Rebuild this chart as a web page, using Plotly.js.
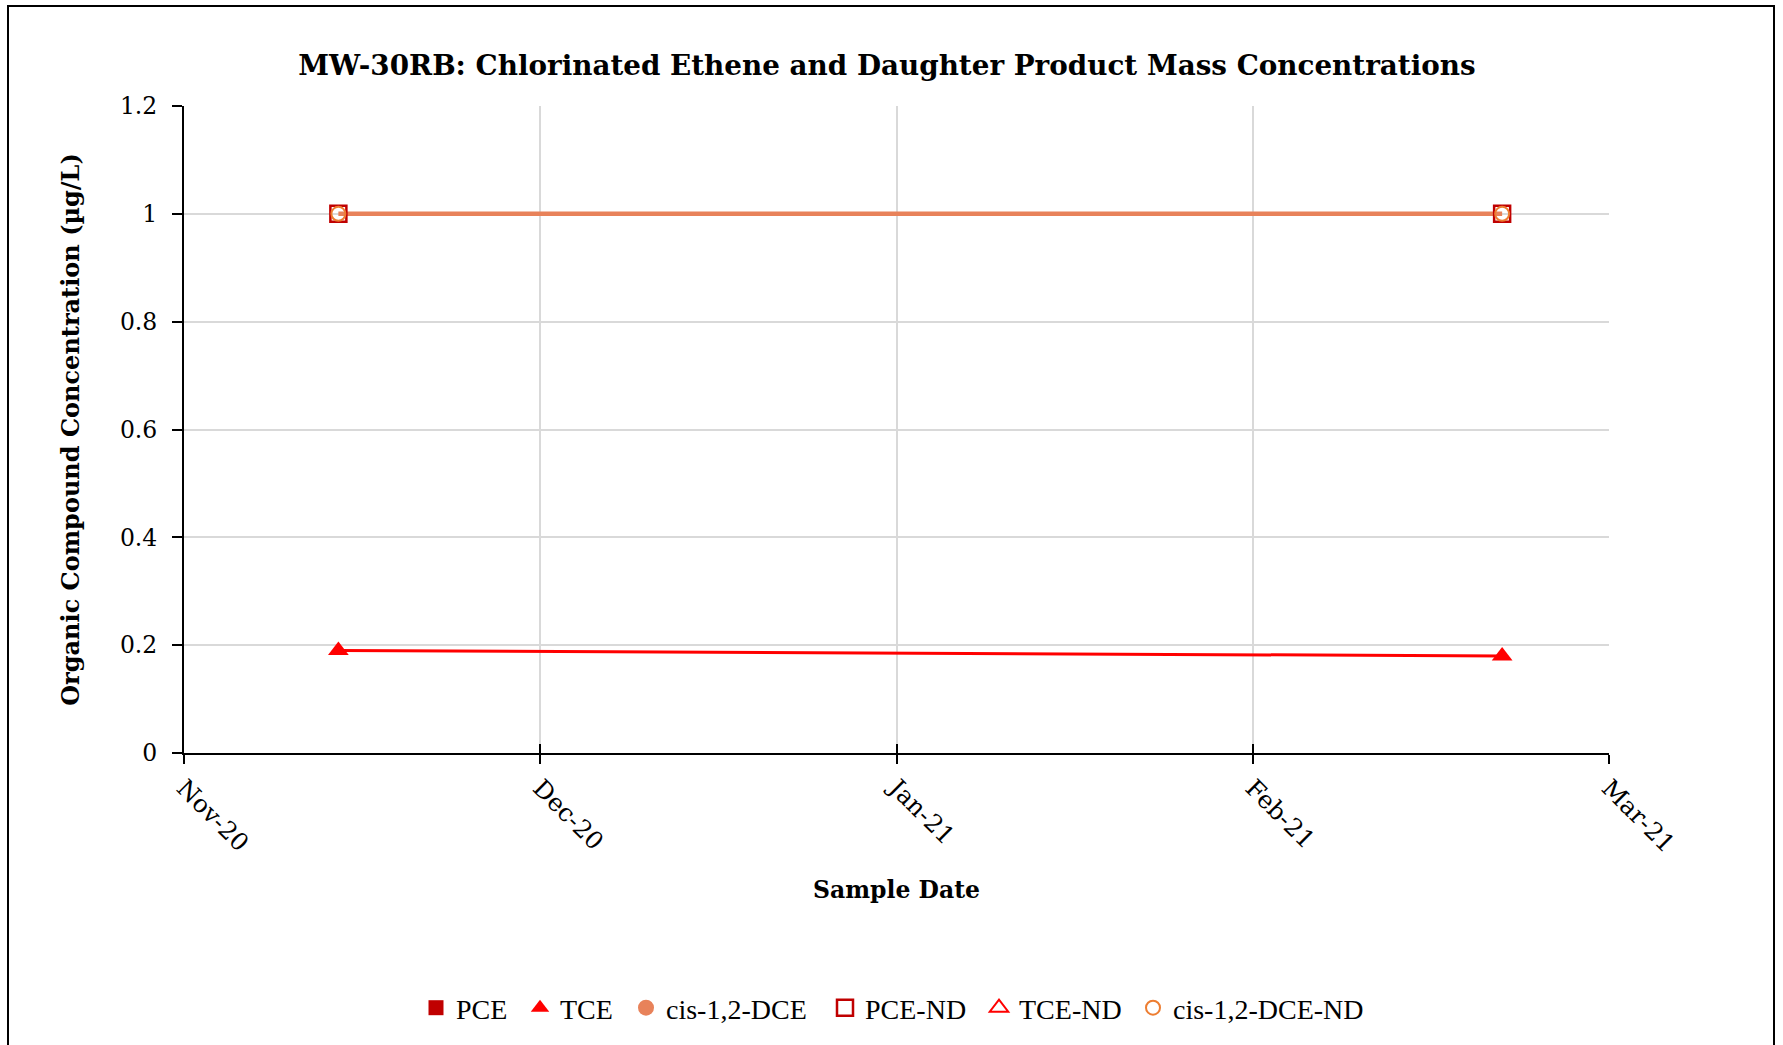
<!DOCTYPE html>
<html>
<head>
<meta charset="utf-8">
<script src="https://cdn.plot.ly/plotly-3.0.1.min.js"></script>
<style>
  html, body { margin: 0; padding: 0; background: #ffffff; }
  #chart { width: 1783px; height: 1045px; }
</style>
</head>
<body>
<div id="chart"></div>
<script>
// ---- data ----
const sampleDates = ['2020-11-28', '2021-03-06'];
const pceValues = [null, null];          // no detected PCE
const tceValues = [0.19, 0.18];
const cisDceValues = [null, null];       // no detected cis-1,2-DCE
const pceNdValues = [1, 1];
const tceNdValues = [null, null];        // no TCE non-detects
const cisDceNdValues = [1, 1];

const seriesNames = ['PCE', 'TCE', 'cis-1,2-DCE', 'PCE-ND', 'TCE-ND', 'cis-1,2-DCE-ND'];

const xTickDates = ['2020-11-15', '2020-12-15', '2021-01-14', '2021-02-13', '2021-03-15'];
const xTickLabels = ['Nov-20', 'Dec-20', 'Jan-21', 'Feb-21', 'Mar-21'];
const yTickValues = [0, 0.2, 0.4, 0.6, 0.8, 1, 1.2];
const yTickLabels = ['0', '0.2', '0.4', '0.6', '0.8', '1', '1.2'];

const colPCE = '#C00000';
const colTCE = '#FF0000';
const colDCE = '#E8825A';
const colDCEnd = '#ED7D31';

const serif = 'DejaVu Serif, Liberation Serif, serif';

const L = 184, R = 174, T = 106, B = 292;
const W = 1783, H = 1045;
const pw = W - L - R, ph = H - T - B;
const px2x = p => (p - L) / pw;
const py2y = p => (H - B - p) / ph;

// legend entry left edges (pixels), one legend box per entry
const legendLefts = [416, 520, 626, 825, 979, 1133];
const legendIds = ['legend', 'legend2', 'legend3', 'legend4', 'legend5', 'legend6'];

const traces = [
  // connecting lines (not in legend)
  { x: sampleDates, y: cisDceNdValues, mode: 'lines', line: { color: colDCE, width: 4.5 },
    showlegend: false, hoverinfo: 'skip' },
  { x: sampleDates, y: tceValues, mode: 'lines', line: { color: colTCE, width: 3 },
    showlegend: false, hoverinfo: 'skip' },
  // legend / marker series
  { name: seriesNames[0], legend: legendIds[0], x: sampleDates, y: pceValues, mode: 'markers',
    marker: { symbol: 'square', color: colPCE, size: 15 } },
  { name: seriesNames[1], legend: legendIds[1], x: sampleDates, y: tceValues, mode: 'markers',
    marker: { symbol: 'triangle-up', color: colTCE, size: 18 } },
  { name: seriesNames[2], legend: legendIds[2], x: sampleDates, y: cisDceValues, mode: 'markers',
    marker: { symbol: 'circle', color: colDCE, size: 16 } },
  { name: seriesNames[3], legend: legendIds[3], x: sampleDates, y: pceNdValues, mode: 'markers',
    marker: { symbol: 'square-open', color: colPCE, size: 16, line: { width: 2.5, color: colPCE } } },
  { name: seriesNames[4], legend: legendIds[4], x: sampleDates, y: tceNdValues, mode: 'markers',
    marker: { symbol: 'triangle-up-open', color: colTCE, size: 18, line: { width: 2, color: colTCE } } },
  { name: seriesNames[5], legend: legendIds[5], x: sampleDates, y: cisDceNdValues, mode: 'markers',
    marker: { symbol: 'circle-open', color: colDCEnd, size: 14, line: { width: 2, color: colDCEnd } } }
];

const layout = {
  width: W, height: H,
  margin: { l: L, r: R, t: T, b: B },
  paper_bgcolor: '#ffffff',
  plot_bgcolor: '#ffffff',
  title: {
    text: 'MW-30RB: Chlorinated Ethene and Daughter Product Mass Concentrations',
    font: { family: serif, size: 27.8, color: '#000000', weight: 'bold' },
    x: px2x(887), xref: 'paper', xanchor: 'center',
    y: 1 - 65 / H, yref: 'container', yanchor: 'middle'
  },
  showlegend: true,
  xaxis: {
    type: 'date',
    range: [xTickDates[0], xTickDates[xTickDates.length - 1]],
    tickmode: 'array', tickvals: xTickDates, ticktext: xTickLabels,
    tickangle: 45,
    tickfont: { family: serif, size: 24.5, color: '#000000' },
    ticks: 'outside', ticklen: 9, tickwidth: 1.5, tickcolor: '#000000',
    showline: true, linecolor: '#000000', linewidth: 2,
    showgrid: true, gridcolor: '#D9D9D9', gridwidth: 1.5,
    zeroline: false,
    title: { text: 'Sample Date', font: { family: serif, size: 23.5, color: '#000000', weight: 'bold' }, standoff: 24 }
  },
  xaxis2: {
    type: 'date', overlaying: 'x', matches: 'x', anchor: 'y',
    tickmode: 'array', tickvals: xTickDates, ticktext: xTickLabels,
    showticklabels: false, ticks: 'inside', ticklen: 9, tickwidth: 1.5, tickcolor: '#000000',
    showgrid: false, showline: false, zeroline: false
  },
  yaxis: {
    range: [0, 1.2],
    tickmode: 'array', tickvals: yTickValues, ticktext: yTickLabels,
    tickfont: { family: serif, size: 23.5, color: '#000000' },
    ticks: 'outside', ticklen: 10, tickwidth: 1.5, tickcolor: '#000000',
    ticklabelstandoff: 10,
    showline: true, linecolor: '#000000', linewidth: 2,
    showgrid: true, gridcolor: '#D9D9D9', gridwidth: 1.5,
    zeroline: false,
    title: { text: 'Organic Compound Concentration (µg/L)', font: { family: serif, size: 24, color: '#000000', weight: 'bold' }, standoff: 34 }
  },
  shapes: [
    { type: 'rect', xref: 'paper', yref: 'paper',
      x0: px2x(8), x1: px2x(1774), y0: py2y(1060), y1: py2y(6),
      line: { color: '#000000', width: 2 }, fillcolor: 'rgba(0,0,0,0)', layer: 'above' }
  ]
};

legendIds.forEach((id, i) => {
  layout[id] = {
    orientation: 'h', x: px2x(legendLefts[i]), xanchor: 'left', y: py2y(1008), yanchor: 'middle',
    font: { family: 'Liberation Serif, serif', size: 28, color: '#000000' },
    bgcolor: 'rgba(0,0,0,0)', itemwidth: 30
  };
});

// dummy trace to activate xaxis2 tick overlay (crossing tick marks)
traces.push({ x: sampleDates, y: [null, null], xaxis: 'x2', yaxis: 'y', showlegend: false, hoverinfo: 'skip', mode: 'markers' });

Plotly.newPlot('chart', traces, layout, { displayModeBar: false, responsive: false });
</script>
</body>
</html>
